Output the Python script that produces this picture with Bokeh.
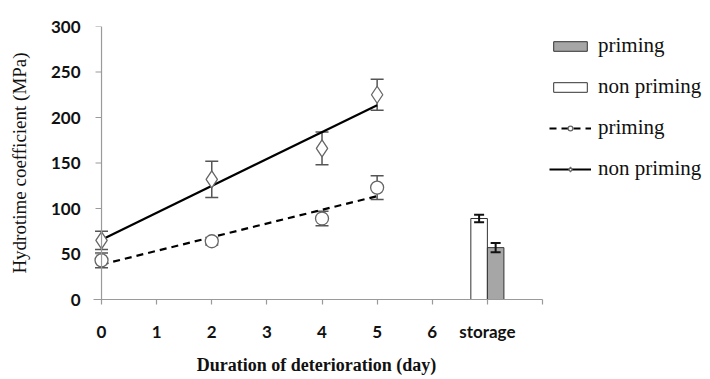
import numpy as np
from bokeh.plotting import figure
from bokeh.models import (Range1d, ColumnDataSource, Whisker, TeeHead, Legend, LegendItem,
                          FixedTicker, Span)
from bokeh.embed import file_html
from bokeh.resources import INLINE

# ---- data ----
days = [0, 2, 4, 5]
non_priming = [65, 132, 166, 225]
non_priming_err = [10, 20, 18, 17]
priming = [43, 64, 89, 123]
priming_err = [8, 4, 8, 13]

storage_x = 7
storage_non_priming = 89
storage_non_priming_err = 4
storage_priming = 57
storage_priming_err = 5

x_ticks = [0, 1, 2, 3, 4, 5, 6, 7, 8]
x_tick_labels = {0: "0", 1: "1", 2: "2", 3: "3", 4: "4", 5: "5", 6: "6", 7: "storage", 8: ""}
y_ticks = [0, 50, 100, 150, 200, 250, 300]

AX = "#9a9a9a"
SERIF = "Liberation Serif"
SANS = "Lato"

p = figure(frame_width=452, frame_height=273, x_range=Range1d(-0.2, 8.0), y_range=Range1d(0, 300),
           output_backend="svg", toolbar_location=None,
           min_border_left=90, min_border_top=26, min_border_bottom=78, min_border_right=0)
p.outline_line_color = None
p.grid.grid_line_color = None
p.background_fill_color = "white"

# axes
p.xaxis.ticker = FixedTicker(ticks=x_ticks)
p.xaxis.major_label_overrides = x_tick_labels
p.xaxis.bounds = (-0.15, 8)
p.yaxis.ticker = FixedTicker(ticks=y_ticks)
for ax in (p.xaxis[0], p.yaxis[0]):
    ax.axis_line_color = AX
    ax.axis_line_width = 1.2
    ax.major_tick_line_color = AX
    ax.major_tick_line_width = 1.2
    ax.minor_tick_line_color = None
    ax.major_tick_in = 0
    ax.major_label_text_font = SANS
    ax.major_label_text_font_style = "bold"
    ax.major_label_text_font_size = "17px"
    ax.major_label_text_color = "#111111"
p.xaxis.major_tick_out = 5
p.xaxis.major_label_standoff = 16
# y axis drawn at x = 0 (line + ticks below); default axis supplies labels only
p.yaxis.axis_line_color = None
p.yaxis.major_tick_line_color = None
p.yaxis.major_tick_out = 0
p.yaxis.major_label_standoff = 10

p.xaxis.axis_label = "Duration of deterioration (day)"
p.xaxis.axis_label_text_font = SERIF
p.xaxis.axis_label_text_font_style = "bold"
p.xaxis.axis_label_text_font_size = "18px"
p.xaxis.axis_label_text_color = "#111111"
p.xaxis.axis_label_standoff = 10

p.yaxis.axis_label = "Hydrotime coefficient (MPa)"
p.yaxis.axis_label_text_font = SERIF
p.yaxis.axis_label_text_font_style = "normal"
p.yaxis.axis_label_text_font_size = "19px"
p.yaxis.axis_label_text_color = "#111111"
p.yaxis.axis_label_standoff = 18

p.add_layout(Span(location=0, dimension="height", line_color=AX, line_width=1.2))
p.ray(x=[0] * len(y_ticks), y=y_ticks, length=6, length_units="screen", angle=np.pi,
      line_color=AX, line_width=1.2)

# bars
bw = 0.3
r_bar_np = p.vbar(x=[storage_x - bw / 2], top=[storage_non_priming], width=bw,
                  fill_color="white", line_color="#333333", line_width=1)
r_bar_p = p.vbar(x=[storage_x + bw / 2], top=[storage_priming], width=bw,
                 fill_color="#a6a6a6", line_color="#333333", line_width=1)
bar_src = ColumnDataSource(dict(
    x=[storage_x - bw / 2, storage_x + bw / 2],
    upper=[storage_non_priming + storage_non_priming_err, storage_priming + storage_priming_err],
    lower=[storage_non_priming - storage_non_priming_err, storage_priming - storage_priming_err]))
p.add_layout(Whisker(base="x", upper="upper", lower="lower", source=bar_src,
                     line_color="#111111", line_width=2, level="overlay",
                     upper_head=TeeHead(size=10, line_color="#111111", line_width=2),
                     lower_head=TeeHead(size=10, line_color="#111111", line_width=2)))

# error bars for line series
for ys, es in ((non_priming, non_priming_err), (priming, priming_err)):
    src = ColumnDataSource(dict(x=days, upper=[y + e for y, e in zip(ys, es)],
                                lower=[y - e for y, e in zip(ys, es)]))
    p.add_layout(Whisker(base="x", upper="upper", lower="lower", source=src,
                         line_color="#555555", line_width=1.5, level="underlay",
                         upper_head=TeeHead(size=13, line_color="#555555", line_width=1.5),
                         lower_head=TeeHead(size=13, line_color="#555555", line_width=1.5)))

# trend lines (least squares fits of the data)
xs_fit = np.array([days[0], days[-1]], dtype=float)
k1, b1 = np.polyfit(days, non_priming, 1)
k2, b2 = np.polyfit(days, priming, 1)
r_line_np = p.line(xs_fit, k1 * xs_fit + b1, line_color="black", line_width=2.2)
r_line_p = p.line(xs_fit, k2 * xs_fit + b2, line_color="black", line_width=2.2, line_dash="7 5")

r_pt_np = p.scatter(days, non_priming, marker="diamond", size=17, fill_color="white",
                    line_color="#666666", line_width=1.3)
r_pt_p = p.scatter(days, priming, marker="circle", size=13, fill_color="white",
                   line_color="#666666", line_width=1.3)

legend = Legend(items=[
    LegendItem(label="priming", renderers=[r_bar_p]),
    LegendItem(label="non priming", renderers=[r_bar_np]),
    LegendItem(label="priming", renderers=[r_line_p, r_pt_p]),
    LegendItem(label="non priming", renderers=[r_line_np, r_pt_np]),
], location="top_left", margin=7, padding=8, spacing=16, glyph_width=42, glyph_height=12,
    label_standoff=7, label_text_font=SERIF, label_text_font_size="21px",
    label_text_color="#111111", border_line_color=None, background_fill_alpha=0)
p.add_layout(legend, "right")

open("out.html", "w").write(file_html(p, INLINE))
